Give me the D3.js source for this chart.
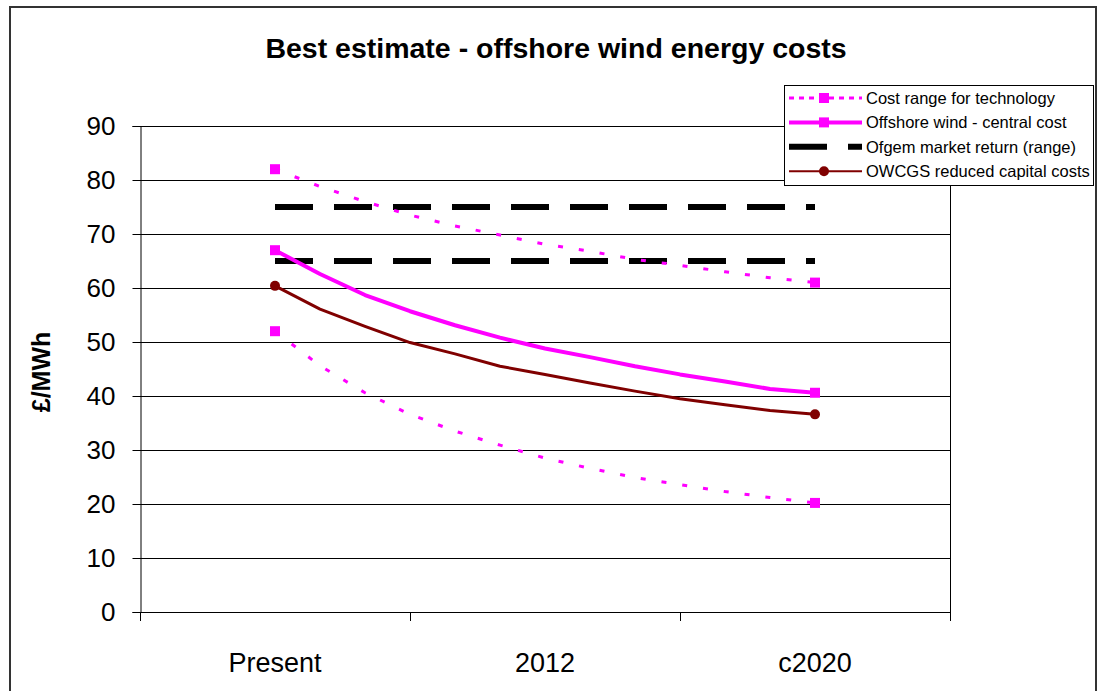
<!DOCTYPE html>
<html>
<head>
<meta charset="utf-8">
<script src="https://cdn.jsdelivr.net/npm/d3@7"></script>
<style>
    body { margin: 0; background: #fff; }
    svg { display: block; font-family: Arial, "Liberation Sans", sans-serif; }
</style>
</head>
<body>
<div id="chart"></div>
<script>
// Chart data
const categories = ['Present', '2012', 'c2020'];
const yTicks = [0, 10, 20, 30, 40, 50, 60, 70, 80, 90];
const steps = [0, 1, 2, 3, 4, 5, 6, 7, 8, 9, 10, 11, 12];
const costHigh = [82.0, 78.8, 76.0, 73.5, 71.5, 69.8, 68.1, 66.8, 65.3, 64.2, 63.0, 61.9, 61.0];
const costLow = [52.0, 45.6, 40.6, 36.6, 33.5, 30.9, 28.5, 26.6, 24.9, 23.6, 22.3, 21.2, 20.2];
const centralCost = [67.0, 62.6, 58.7, 55.7, 53.1, 50.8, 48.8, 47.2, 45.5, 44.0, 42.7, 41.3, 40.6];
const owcgsCost = [60.4, 56.1, 52.9, 49.9, 47.8, 45.5, 44.0, 42.4, 40.9, 39.5, 38.4, 37.3, 36.6];
const ofgemSteps = [0, 12];
const ofgemHigh = [75, 75];
const ofgemLow = [65, 65];
const legendLabels = ['Cost range for technology', 'Offshore wind - central cost',
    'Ofgem market return (range)', 'OWCGS reduced capital costs'];

function createChart(container) {
    const width = 1102;
    const height = 691;
    const plot = {left: 140, right: 950, top: 126, bottom: 612};

    const svg = d3.select(container)
        .append('svg')
        .attr('width', width)
        .attr('height', height);

    // outer frame
    svg.append('rect')
        .attr('x', 10).attr('y', 7)
        .attr('width', 1086).attr('height', 700)
        .attr('fill', 'none')
        .attr('stroke', '#333')
        .attr('stroke-width', 2);

    svg.append('text')
        .attr('x', 556).attr('y', 58)
        .attr('text-anchor', 'middle')
        .attr('font-size', 28.5)
        .attr('font-weight', 'bold')
        .text('Best estimate - offshore wind energy costs');

    const x = d3.scaleBand()
        .domain(categories)
        .range([plot.left, plot.right]);

    const y = d3.scaleLinear()
        .domain([0, 90])
        .range([plot.bottom, plot.top]);

    // series run from the centre of the first band to the centre of the last
    const xs = d3.scaleLinear()
        .domain([0, 12])
        .range([x('Present') + x.bandwidth() / 2, x('c2020') + x.bandwidth() / 2]);

    // gridlines
    svg.append('g')
        .selectAll('line')
        .data(yTicks.filter(d => d > 0))
        .enter().append('line')
        .attr('x1', plot.left).attr('x2', plot.right)
        .attr('y1', d => Math.round(y(d)) + 0.5)
        .attr('y2', d => Math.round(y(d)) + 0.5)
        .attr('stroke', '#000')
        .attr('stroke-width', 1);

    // plot area right border
    svg.append('line')
        .attr('x1', plot.right + 0.5).attr('x2', plot.right + 0.5)
        .attr('y1', plot.top).attr('y2', plot.bottom)
        .attr('stroke', '#000');

    const yAxis = svg.append('g')
        .attr('transform', `translate(${plot.left + 0.5},0)`)
        .call(d3.axisLeft(y).tickValues(yTicks).tickSize(8).tickPadding(17));
    yAxis.select('.domain').attr('stroke', '#000');
    yAxis.selectAll('text').attr('font-size', 26).attr('fill', '#000').attr('font-family', 'Arial, "Liberation Sans", sans-serif');

    const xAxis = svg.append('g')
        .attr('transform', `translate(0,${plot.bottom + 0.5})`)
        .call(d3.axisBottom(x).tickSize(0).tickPadding(40));
    xAxis.select('.domain').remove();
    xAxis.selectAll('text').attr('font-size', 27).attr('fill', '#000').attr('font-family', 'Arial, "Liberation Sans", sans-serif');
    svg.append('line')
        .attr('x1', plot.left).attr('x2', plot.right + 1)
        .attr('y1', plot.bottom + 0.5).attr('y2', plot.bottom + 0.5)
        .attr('stroke', '#000');
    // category boundary ticks
    svg.append('g')
        .selectAll('line')
        .data(categories.concat(['end']))
        .enter().append('line')
        .attr('x1', (d, i) => Math.round(plot.left + i * x.bandwidth()) + 0.5)
        .attr('x2', (d, i) => Math.round(plot.left + i * x.bandwidth()) + 0.5)
        .attr('y1', plot.bottom).attr('y2', plot.bottom + 9)
        .attr('stroke', '#000');

    svg.append('text')
        .attr('transform', 'translate(50,372) rotate(-90)')
        .attr('text-anchor', 'middle')
        .attr('font-size', 25)
        .attr('font-weight', 'bold')
        .text('£/MWh');

    const line = d3.line()
        .x(d => xs(d[0]))
        .y(d => y(d[1]));

    function drawSeries(values, stepList, color, widthPx, dash, marker) {
        const pts = stepList.map((s, i) => [s, values[i]]);
        svg.append('path')
            .datum(pts)
            .attr('fill', 'none')
            .attr('stroke', color)
            .attr('stroke-width', widthPx)
            .attr('stroke-dasharray', dash)
            .attr('stroke-linejoin', 'round')
            .attr('d', line);
        if (!marker) return;
        const ends = [pts[0], pts[pts.length - 1]];
        if (marker === 'square') {
            svg.selectAll(null).data(ends).enter().append('rect')
                .attr('x', d => xs(d[0]) - 5).attr('y', d => y(d[1]) - 5)
                .attr('width', 10).attr('height', 10)
                .attr('fill', color);
        } else {
            svg.selectAll(null).data(ends).enter().append('circle')
                .attr('cx', d => xs(d[0])).attr('cy', d => y(d[1]))
                .attr('r', 5)
                .attr('fill', color);
        }
    }

    drawSeries(ofgemHigh, ofgemSteps, '#000', 6, '38,21', null);
    drawSeries(ofgemLow, ofgemSteps, '#000', 6, '38,21', null);
    drawSeries(costHigh, steps, '#FF00FF', 3, '5,16', 'square');
    drawSeries(costLow, steps, '#FF00FF', 3, '5,16', 'square');
    drawSeries(centralCost, steps, '#FF00FF', 4, null, 'square');
    drawSeries(owcgsCost, steps, '#800000', 3, null, 'circle');

    // Legend
    const legend = svg.append('g');
    legend.append('rect')
        .attr('x', 784.5).attr('y', 85.5)
        .attr('width', 309).attr('height', 100)
        .attr('fill', '#fff')
        .attr('stroke', '#000');

    const legendStyles = [
        {color: '#FF00FF', w: 3, dash: '5,5', marker: 'square'},
        {color: '#FF00FF', w: 4, dash: null, marker: 'square'},
        {color: '#000', w: 6, dash: '38,21', marker: null},
        {color: '#800000', w: 2, dash: null, marker: 'circle'}
    ];

    legendLabels.forEach((label, i) => {
        const ly = 98 + i * 24.4;
        const st = legendStyles[i];
        legend.append('line')
            .attr('x1', 789).attr('x2', 862)
            .attr('y1', ly).attr('y2', ly)
            .attr('stroke', st.color)
            .attr('stroke-width', st.w)
            .attr('stroke-dasharray', st.dash);
        if (st.marker === 'square') {
            legend.append('rect')
                .attr('x', 819).attr('y', ly - 5)
                .attr('width', 10).attr('height', 10)
                .attr('fill', st.color);
        } else if (st.marker === 'circle') {
            legend.append('circle')
                .attr('cx', 824).attr('cy', ly).attr('r', 5)
                .attr('fill', st.color);
        }
        legend.append('text')
            .attr('x', 866).attr('y', ly + 6)
            .attr('font-size', 16.5)
            .text(label);
    });
}

createChart('#chart');
</script>
</body>
</html>
